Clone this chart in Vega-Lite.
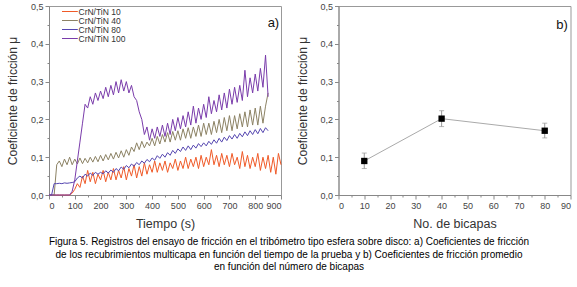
{
  "$schema": "https://vega.github.io/schema/vega-lite/v6.json",
  "padding": {"left": 6, "top": 1, "right": 0, "bottom": 0},
  "config": {
    "font": "Liberation Sans",
    "view": {"stroke": "#999", "strokeWidth": 1},
    "axis": {"domainColor": "#888", "tickColor": "#888", "labelColor": "#444", "labelFontSize": 9, "titleFontWeight": "normal", "titleColor": "#333", "grid": false, "labelPadding": 2, "titleFontSize": 12, "labelOverlap": false, "tickCount": 100}
  },
  "title": {
    "text": ["Figura 5. Registros del ensayo de fricción en el tribómetro tipo esfera sobre disco: a) Coeficientes de fricción", "de los recubrimientos multicapa en función del tiempo de la prueba y b) Coeficientes de fricción promedio", "en función del número de bicapas"],
    "orient": "bottom", "anchor": "middle", "fontSize": 10, "fontWeight": "normal", "lineHeight": 12.5, "offset": 7, "color": "#000"
  },
  "spacing": 11.5,
  "hconcat": [
    {
      "width": 232,
      "height": 189,
      "layer": [
        {
          "data": {"values": [
            {"t":0,"s10":0,"s40":0,"s80":0,"s100":0},
            {"t":10,"s10":0,"s40":0,"s80":0,"s100":0},
            {"t":20,"s10":0,"s40":0,"s80":0.03,"s100":0},
            {"t":30,"s10":0,"s40":0.08,"s80":0.03,"s100":0},
            {"t":40,"s10":0,"s40":0.09,"s80":0.031,"s100":0},
            {"t":50,"s10":0,"s40":0.075,"s80":0.03,"s100":0},
            {"t":60,"s10":0,"s40":0.095,"s80":0.032,"s100":0},
            {"t":70,"s10":0,"s40":0.08,"s80":0.031,"s100":0},
            {"t":80,"s10":0,"s40":0.1,"s80":0.032,"s100":0},
            {"t":90,"s10":0.005,"s40":0.08,"s80":0.033,"s100":0.01},
            {"t":100,"s10":0.015,"s40":0.095,"s80":0.035,"s100":0.04},
            {"t":110,"s10":0.03,"s40":0.082,"s80":0.045,"s100":0.09},
            {"t":120,"s10":0.02,"s40":0.098,"s80":0.05,"s100":0.14},
            {"t":130,"s10":0.05,"s40":0.083,"s80":0.045,"s100":0.19},
            {"t":140,"s10":0.03,"s40":0.097,"s80":0.055,"s100":0.24},
            {"t":150,"s10":0.065,"s40":0.085,"s80":0.05,"s100":0.23},
            {"t":160,"s10":0.035,"s40":0.1,"s80":0.058,"s100":0.26},
            {"t":170,"s10":0.06,"s40":0.087,"s80":0.052,"s100":0.24},
            {"t":180,"s10":0.03,"s40":0.102,"s80":0.06,"s100":0.27},
            {"t":190,"s10":0.055,"s40":0.088,"s80":0.055,"s100":0.25},
            {"t":200,"s10":0.04,"s40":0.105,"s80":0.06,"s100":0.275},
            {"t":210,"s10":0.065,"s40":0.09,"s80":0.056,"s100":0.255},
            {"t":220,"s10":0.035,"s40":0.107,"s80":0.064,"s100":0.285},
            {"t":230,"s10":0.06,"s40":0.093,"s80":0.058,"s100":0.26},
            {"t":240,"s10":0.04,"s40":0.11,"s80":0.066,"s100":0.29},
            {"t":250,"s10":0.07,"s40":0.095,"s80":0.06,"s100":0.265},
            {"t":260,"s10":0.04,"s40":0.113,"s80":0.07,"s100":0.3},
            {"t":270,"s10":0.065,"s40":0.098,"s80":0.064,"s100":0.27},
            {"t":280,"s10":0.045,"s40":0.117,"s80":0.074,"s100":0.305},
            {"t":290,"s10":0.075,"s40":0.1,"s80":0.068,"s100":0.275},
            {"t":300,"s10":0.04,"s40":0.12,"s80":0.078,"s100":0.3},
            {"t":310,"s10":0.07,"s40":0.105,"s80":0.072,"s100":0.27},
            {"t":320,"s10":0.05,"s40":0.127,"s80":0.082,"s100":0.29},
            {"t":330,"s10":0.08,"s40":0.115,"s80":0.076,"s100":0.26},
            {"t":340,"s10":0.045,"s40":0.138,"s80":0.086,"s100":0.25},
            {"t":350,"s10":0.075,"s40":0.12,"s80":0.08,"s100":0.22},
            {"t":360,"s10":0.05,"s40":0.142,"s80":0.09,"s100":0.2},
            {"t":370,"s10":0.085,"s40":0.125,"s80":0.084,"s100":0.16},
            {"t":380,"s10":0.055,"s40":0.14,"s80":0.094,"s100":0.18},
            {"t":390,"s10":0.08,"s40":0.13,"s80":0.088,"s100":0.145},
            {"t":400,"s10":0.06,"s40":0.15,"s80":0.098,"s100":0.175},
            {"t":410,"s10":0.09,"s40":0.13,"s80":0.092,"s100":0.15},
            {"t":420,"s10":0.06,"s40":0.155,"s80":0.104,"s100":0.18},
            {"t":430,"s10":0.085,"s40":0.135,"s80":0.097,"s100":0.155},
            {"t":440,"s10":0.065,"s40":0.16,"s80":0.108,"s100":0.185},
            {"t":450,"s10":0.09,"s40":0.14,"s80":0.1,"s100":0.155},
            {"t":460,"s10":0.06,"s40":0.165,"s80":0.112,"s100":0.19},
            {"t":470,"s10":0.085,"s40":0.14,"s80":0.105,"s100":0.16},
            {"t":480,"s10":0.07,"s40":0.168,"s80":0.118,"s100":0.2},
            {"t":490,"s10":0.095,"s40":0.145,"s80":0.11,"s100":0.17},
            {"t":500,"s10":0.065,"s40":0.17,"s80":0.122,"s100":0.205},
            {"t":510,"s10":0.09,"s40":0.145,"s80":0.115,"s100":0.175},
            {"t":520,"s10":0.07,"s40":0.175,"s80":0.127,"s100":0.21},
            {"t":530,"s10":0.1,"s40":0.15,"s80":0.118,"s100":0.18},
            {"t":540,"s10":0.07,"s40":0.178,"s80":0.13,"s100":0.22},
            {"t":550,"s10":0.095,"s40":0.15,"s80":0.12,"s100":0.185},
            {"t":560,"s10":0.075,"s40":0.18,"s80":0.132,"s100":0.235},
            {"t":570,"s10":0.1,"s40":0.155,"s80":0.124,"s100":0.19},
            {"t":580,"s10":0.07,"s40":0.185,"s80":0.136,"s100":0.23},
            {"t":590,"s10":0.105,"s40":0.155,"s80":0.128,"s100":0.2},
            {"t":600,"s10":0.075,"s40":0.19,"s80":0.138,"s100":0.24},
            {"t":610,"s10":0.1,"s40":0.16,"s80":0.13,"s100":0.205},
            {"t":620,"s10":0.08,"s40":0.19,"s80":0.142,"s100":0.26},
            {"t":630,"s10":0.12,"s40":0.16,"s80":0.134,"s100":0.215},
            {"t":640,"s10":0.08,"s40":0.195,"s80":0.146,"s100":0.25},
            {"t":650,"s10":0.105,"s40":0.165,"s80":0.137,"s100":0.22},
            {"t":660,"s10":0.075,"s40":0.2,"s80":0.15,"s100":0.265},
            {"t":670,"s10":0.11,"s40":0.165,"s80":0.14,"s100":0.225},
            {"t":680,"s10":0.08,"s40":0.205,"s80":0.153,"s100":0.27},
            {"t":690,"s10":0.105,"s40":0.17,"s80":0.144,"s100":0.23},
            {"t":700,"s10":0.075,"s40":0.21,"s80":0.157,"s100":0.28},
            {"t":710,"s10":0.11,"s40":0.17,"s80":0.148,"s100":0.24},
            {"t":720,"s10":0.08,"s40":0.21,"s80":0.16,"s100":0.285},
            {"t":730,"s10":0.1,"s40":0.175,"s80":0.15,"s100":0.245},
            {"t":740,"s10":0.07,"s40":0.215,"s80":0.163,"s100":0.29},
            {"t":750,"s10":0.115,"s40":0.18,"s80":0.154,"s100":0.25},
            {"t":760,"s10":0.075,"s40":0.22,"s80":0.167,"s100":0.33},
            {"t":770,"s10":0.105,"s40":0.18,"s80":0.157,"s100":0.26},
            {"t":780,"s10":0.07,"s40":0.225,"s80":0.17,"s100":0.31},
            {"t":790,"s10":0.1,"s40":0.185,"s80":0.16,"s100":0.27},
            {"t":800,"s10":0.075,"s40":0.23,"s80":0.173,"s100":0.32},
            {"t":810,"s10":0.11,"s40":0.185,"s80":0.162,"s100":0.275},
            {"t":820,"s10":0.065,"s40":0.235,"s80":0.176,"s100":0.335},
            {"t":830,"s10":0.1,"s40":0.19,"s80":0.165,"s100":0.285},
            {"t":840,"s10":0.07,"s40":0.235,"s80":0.178,"s100":0.37},
            {"t":850,"s10":0.105,"s40":0.27,"s80":0.17,"s100":0.26},
            {"t":860,"s10":0.06},
            {"t":870,"s10":0.1},
            {"t":880,"s10":0.055},
            {"t":890,"s10":0.11},
            {"t":900,"s10":0.08}
          ]},
          "transform": [{"fold": ["s10", "s40", "s80", "s100"], "as": ["serie", "mu"]}],
          "mark": {"type": "line", "strokeWidth": 1},
          "encoding": {
            "x": {"field": "t", "type": "quantitative", "scale": {"domain": [0, 900], "nice": false},
              "axis": {"title": "Tiempo (s)", "titleFontSize": 12.5, "titleFontWeight": "normal", "titlePadding": 7, "labelOverlap": false, "tickCount": 100,
                "values": [0,50,100,150,200,250,300,350,400,450,500,550,600,650,700,750,800,850,900],
                "labelExpr": "datum.value % 100 == 0 ? datum.label : ''",
                "tickSize": {"condition": {"test": "datum.value % 100 == 0", "value": 4}, "value": 2}}},
            "y": {"field": "mu", "type": "quantitative", "scale": {"domain": [0, 0.5], "nice": false},
              "axis": {"title": "Coeficiente de fricción μ", "titleFontWeight": "normal", "titlePadding": 10.5, "labelOverlap": false, "tickCount": 100,
                "values": [0,0.05,0.1,0.15,0.2,0.25,0.3,0.35,0.4,0.45,0.5],
                "labelExpr": "round(datum.value*100) % 10 == 0 ? replace(format(datum.value, '.1f'), '.', ',') : ''",
                "tickSize": {"condition": {"test": "round(datum.value*100) % 10 == 0", "value": 4}, "value": 2}}},
            "color": {"field": "serie", "type": "nominal",
              "scale": {"domain": ["s10", "s40", "s80", "s100"], "range": ["#f05a28", "#8c8264", "#5546b0", "#7a3cab"]},
              "legend": {"orient": "none", "legendX": 13, "legendY": 2.5, "title": null, "symbolType": "M-3.3,0H3.3", "symbolSize": 49, "symbolStrokeWidth": 1, "symbolFillColor": "transparent", "labelFontSize": 8.5, "labelColor": "#333", "rowPadding": 0, "clipHeight": 6, "labelOffset": 8,
                "labelExpr": "'CrN/TiN ' + slice(datum.label, 1)"}}
          }
        },
        {
          "data": {"values": [{"lab": "a)"}]},
          "mark": {"type": "text", "align": "right", "baseline": "middle", "fontSize": 13, "color": "#111"},
          "encoding": {
            "x": {"datum": 893, "type": "quantitative"},
            "y": {"datum": 0.455, "type": "quantitative"},
            "text": {"field": "lab"}
          }
        }
      ]
    },
    {
      "width": 232,
      "height": 189,
      "data": {"values": [
        {"n": 10, "mu": 0.09, "lo": 0.07, "hi": 0.111},
        {"n": 40, "mu": 0.202, "lo": 0.181, "hi": 0.223},
        {"n": 80, "mu": 0.17, "lo": 0.151, "hi": 0.19}
      ]},
      "layer": [
        {
          "mark": {"type": "line", "color": "#aaa", "strokeWidth": 1},
          "encoding": {
            "x": {"field": "n", "type": "quantitative", "scale": {"domain": [0, 90], "nice": false},
              "axis": {"title": "No. de bicapas", "titleFontSize": 12.5, "titleFontWeight": "normal", "titlePadding": 7, "labelOverlap": false, "tickCount": 100,
                "values": [0,5,10,15,20,25,30,35,40,45,50,55,60,65,70,75,80,85,90],
                "labelExpr": "datum.value % 10 == 0 ? datum.label : ''",
                "tickSize": {"condition": {"test": "datum.value % 10 == 0", "value": 4}, "value": 2}}},
            "y": {"field": "mu", "type": "quantitative", "title": "Coeficiente de fricción μ", "scale": {"domain": [0, 0.5], "nice": false},
              "axis": {"title": "Coeficiente de fricción μ", "titleFontWeight": "normal", "titlePadding": 10.5, "labelOverlap": false, "tickCount": 100,
                "values": [0,0.05,0.1,0.15,0.2,0.25,0.3,0.35,0.4,0.45,0.5],
                "labelExpr": "round(datum.value*100) % 10 == 0 ? replace(format(datum.value, '.1f'), '.', ',') : ''",
                "tickSize": {"condition": {"test": "round(datum.value*100) % 10 == 0", "value": 4}, "value": 2}}}
          }
        },
        {
          "mark": {"type": "errorbar", "color": "#999", "ticks": {"size": 5, "color": "#999"}},
          "encoding": {
            "x": {"field": "n", "type": "quantitative", "title": "No. de bicapas"},
            "y": {"field": "lo", "type": "quantitative", "title": "Coeficiente de fricción μ"},
            "y2": {"field": "hi"}
          }
        },
        {
          "mark": {"type": "square", "color": "#000", "filled": true, "opacity": 1, "size": 40},
          "encoding": {
            "x": {"field": "n", "type": "quantitative", "title": "No. de bicapas"},
            "y": {"field": "mu", "type": "quantitative", "title": "Coeficiente de fricción μ"}
          }
        },
        {
          "data": {"values": [{"lab": "b)"}]},
          "mark": {"type": "text", "align": "right", "baseline": "middle", "fontSize": 13, "color": "#111"},
          "encoding": {
            "x": {"datum": 89, "type": "quantitative"},
            "y": {"datum": 0.45, "type": "quantitative"},
            "text": {"field": "lab"}
          }
        }
      ]
    }
  ]
}
